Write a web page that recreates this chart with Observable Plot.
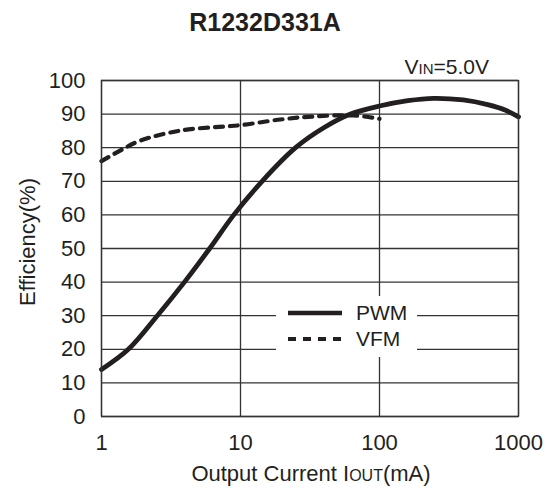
<!DOCTYPE html>
<html>
<head>
<meta charset="utf-8">
<script src="https://cdn.jsdelivr.net/npm/d3@7"></script>
<script src="https://cdn.jsdelivr.net/npm/@observablehq/plot@0.6"></script>
<style>
  html, body { margin: 0; padding: 0; background: #fff; }
  #chart { position: relative; width: 553px; height: 488px; }
</style>
</head>
<body>
<div id="chart"></div>
<script>
// PWM series: output current (mA) and efficiency (%)
const pwmCurrent = [1, 1.56, 2.52, 3.95, 6.0, 8.95, 14.3, 24.9, 40, 61.9, 100, 160, 245, 400, 600, 800, 1000];
const pwmEff     = [14.0, 20, 30, 40, 50, 60, 70, 80, 86, 90, 92.4, 94, 94.7, 94.2, 92.8, 91.2, 89.2];
// VFM series
const vfmCurrent = [1, 1.37, 1.9, 3.7, 7.55, 10, 19.4, 33.7, 65, 100];
const vfmEff     = [76, 79.2, 82.1, 85.1, 86.3, 86.7, 88.4, 89.3, 89.6, 88.6];
// ticks
const xTicks = [1, 10, 100, 1000];
const yTicks = [0, 10, 20, 30, 40, 50, 60, 70, 80, 90, 100];
const titleText = "R1232D331A";

const pwm = pwmCurrent.map((x, i) => ({x, y: pwmEff[i]}));
const vfm = vfmCurrent.map((x, i) => ({x, y: vfmEff[i]}));

const ink = "#231f20";
const plot = Plot.plot({
  width: 553,
  height: 488,
  marginTop: 80,
  marginBottom: 72,
  marginLeft: 101,
  marginRight: 35,
  style: {fontFamily: "'Liberation Sans', Arial, sans-serif", fontSize: "22px", color: ink, background: "#fff"},
  x: {type: "log", domain: [1, 1000], ticks: xTicks, tickFormat: d => String(d), tickSize: 0, tickPadding: 18, label: null},
  y: {domain: [0, 100], ticks: yTicks, tickSize: 0, tickPadding: 16, label: null},
  marks: [
    Plot.gridX(xTicks, {stroke: "#333", strokeOpacity: 1, strokeWidth: 1.3}),
    Plot.gridY(yTicks, {stroke: "#333", strokeOpacity: 1, strokeWidth: 1.3}),
    Plot.line(vfm, {x: "x", y: "y", stroke: ink, strokeWidth: 4.2, strokeDasharray: "8,7", curve: "catmull-rom"}),
    Plot.line(pwm, {x: "x", y: "y", stroke: ink, strokeWidth: 4.8, curve: "catmull-rom"}),
    Plot.frame({stroke: "#333", strokeWidth: 1.3})
  ]
});
document.getElementById("chart").appendChild(plot);

const svg = d3.select(plot);
const font = "'Liberation Sans', Arial, sans-serif";
// Title
svg.append("text").attr("x", 265).attr("y", 31).attr("text-anchor", "middle")
  .attr("font-family", font).attr("font-weight", "bold").attr("font-size", 25).attr("fill", ink)
  .text(titleText);
// VIN annotation
const vin = svg.append("text").attr("x", 489).attr("y", 74).attr("text-anchor", "end")
  .attr("font-family", font).attr("font-size", 21).attr("fill", ink);
vin.append("tspan").text("V");
vin.append("tspan").attr("font-size", 15).text("IN");
vin.append("tspan").text("=5.0V");
// X label
const xl = svg.append("text").attr("x", 311).attr("y", 481).attr("text-anchor", "middle")
  .attr("font-family", font).attr("font-size", 22).attr("fill", ink);
xl.append("tspan").text("Output Current I");
xl.append("tspan").attr("font-size", 16).text("OUT");
xl.append("tspan").text("(mA)");
// Y label
svg.append("text").attr("transform", "translate(35,242) rotate(-90)").attr("text-anchor", "middle")
  .attr("font-family", font).attr("font-size", 22).attr("fill", ink).text("Efficiency(%)");
// Legend
const lg = svg.append("g").attr("transform", "translate(276,296)");
lg.append("rect").attr("width", 141).attr("height", 61).attr("fill", "#fff");
lg.append("line").attr("x1", 12).attr("x2", 66).attr("y1", 17).attr("y2", 17)
  .attr("stroke", ink).attr("stroke-width", 4.5);
lg.append("line").attr("x1", 12).attr("x2", 66).attr("y1", 43).attr("y2", 43)
  .attr("stroke", ink).attr("stroke-width", 4.2).attr("stroke-dasharray", "8,7");
lg.append("text").attr("x", 80).attr("y", 17).attr("dy", "0.35em").attr("text-anchor", "start")
  .attr("font-family", font).attr("font-size", 21).attr("fill", ink).text("PWM");
lg.append("text").attr("x", 80).attr("y", 43).attr("dy", "0.35em").attr("text-anchor", "start")
  .attr("font-family", font).attr("font-size", 21).attr("fill", ink).text("VFM");
</script>
</body>
</html>
